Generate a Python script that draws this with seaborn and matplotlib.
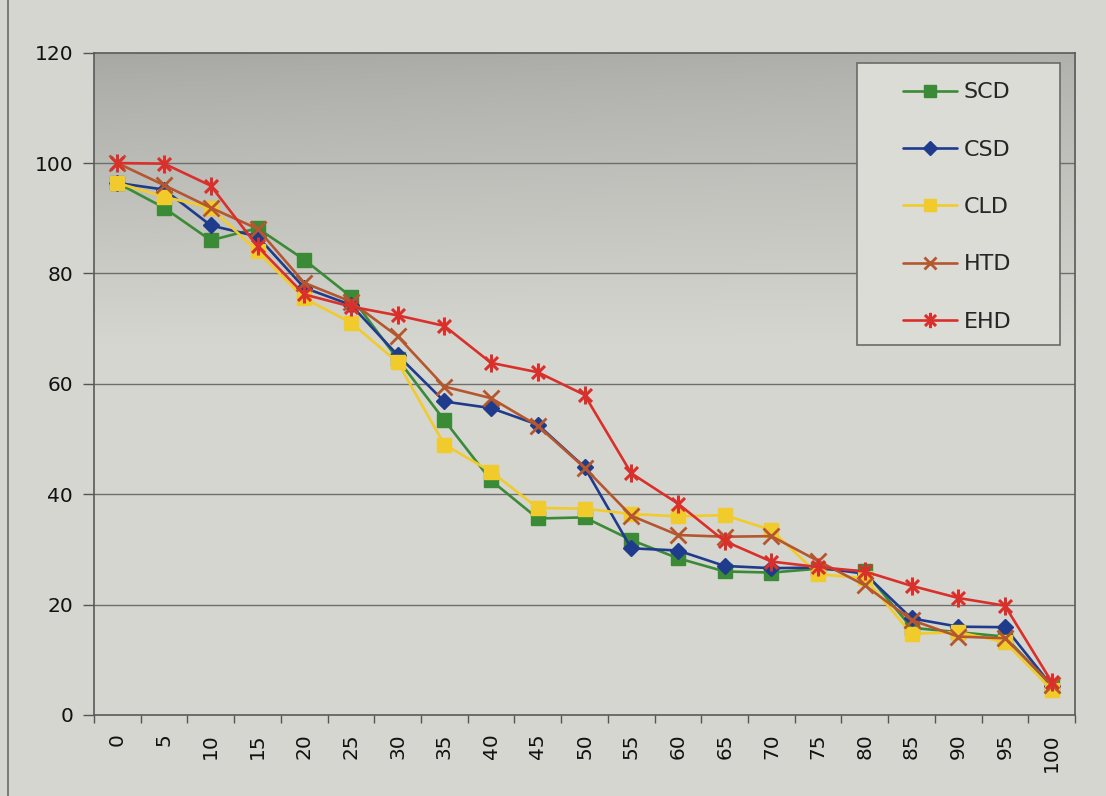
import numpy as np
import pandas as pd
import matplotlib
matplotlib.use("Agg")
import matplotlib.pyplot as plt
from matplotlib.path import Path
from matplotlib.patches import Rectangle
from matplotlib.lines import Line2D
import seaborn as sns

# Category axis (percent) and the five series
levels = [0, 5, 10, 15, 20, 25, 30, 35, 40, 45, 50, 55, 60, 65, 70, 75, 80, 85, 90, 95, 100]
scd = [96.4, 91.9, 86.0, 88.2, 82.5, 75.8, 64.5, 53.4, 42.5, 35.6, 35.8, 31.7, 28.4, 26.0, 25.8, 26.5, 26.0, 15.8, 15.0, 14.2, 5.2]
csd = [96.4, 95.2, 88.7, 86.7, 77.4, 74.3, 65.2, 56.8, 55.6, 52.6, 44.9, 30.2, 29.8, 27.0, 26.6, 26.7, 25.6, 17.5, 16.0, 15.9, 5.3]
cld = [96.4, 93.9, 91.9, 84.0, 75.5, 71.1, 63.9, 49.0, 44.1, 37.5, 37.4, 36.4, 36.0, 36.2, 33.5, 25.5, 24.8, 14.7, 15.0, 13.2, 4.6]
htd = [100.0, 96.0, 91.9, 88.1, 78.3, 74.9, 68.6, 59.5, 57.4, 52.4, 44.8, 36.1, 32.6, 32.3, 32.4, 27.9, 23.5, 17.2, 14.2, 13.9, 5.5]
ehd = [100.0, 99.9, 95.9, 84.9, 76.2, 74.0, 72.4, 70.5, 63.8, 62.1, 58.0, 43.8, 38.3, 31.5, 27.8, 26.8, 26.0, 23.4, 21.2, 19.8, 6.0]
series_names = ["SCD", "CSD", "CLD", "HTD", "EHD"]
y_ticks = [0, 20, 40, 60, 80, 100, 120]

df = pd.DataFrame({
    "nivel": levels * 5,
    "valor": scd + csd + cld + htd + ehd,
    "serie": np.repeat(series_names, len(levels)),
})

# Excel-like "star" marker: an x with a vertical bar through it
star = Path(
    [(0, -1), (0, 1), (-0.72, -0.72), (0.72, 0.72), (-0.72, 0.72), (0.72, -0.72)],
    [Path.MOVETO, Path.LINETO, Path.MOVETO, Path.LINETO, Path.MOVETO, Path.LINETO],
)

styles = {
    "SCD": dict(color="#3b8a35", marker="s", ms=10.5, mew=1.0),
    "CSD": dict(color="#1f3b8c", marker="D", ms=8.5, mew=1.0),
    "CLD": dict(color="#f1cb2c", marker="s", ms=10.5, mew=1.0),
    "HTD": dict(color="#b4572f", marker="x", ms=11, mew=2.0),
    "EHD": dict(color="#d9302b", marker=star, ms=13, mew=2.2),
}

sns.set_theme(style="white")
plt.rcParams["font.family"] = ["DejaVu Sans"]

page = "#d6d6d0"
fig = plt.figure(figsize=(11.06, 7.96), dpi=100, facecolor=page)
ax = fig.add_axes([0.085, 0.1018, 0.8870, 0.8320])
ax.set_facecolor("#d7d7d1")

# Gradient shading at the top of the plot area (row 0 = top edge)
grad_h = 200
g = np.linspace(0, 1, grad_h)
top_rgb = np.array([0.69, 0.69, 0.675])
low_rgb = np.array([0.843, 0.843, 0.82])
t = np.clip(g / 0.45, 0, 1) ** 0.85
col = top_rgb[None, :] * (1 - t[:, None]) + low_rgb[None, :] * t[:, None]
img = np.repeat(col[:, None, :], 50, axis=1)
# slightly darker toward the left edge
xs = np.linspace(0, 1, 50)
shade = 1 - 0.05 * (1 - xs)[None, :, None] * (1 - t[:, None, None])
img = np.clip(img * shade, 0, 1)
ax.imshow(img, extent=[0, 1, 0, 1], origin="upper", transform=ax.transAxes,
          aspect="auto", zorder=0, interpolation="bilinear")

for name in series_names:
    st = styles[name]
    sns.lineplot(data=df[df["serie"] == name], x="nivel", y="valor", ax=ax,
                 color=st["color"], lw=1.9, marker=st["marker"], ms=st["ms"],
                 mew=st["mew"], mec=st["color"], mfc=st["color"],
                 label=name, legend=False, zorder=3)

ax.set_xlim(-2.5, 102.5)
ax.set_ylim(0, 120)
ax.set_xlabel("")
ax.set_ylabel("")

# Category axis: tick marks between categories, labels centred on them
ax.set_xticks(np.arange(-2.5, 103, 5))
ax.set_xticklabels([])
ax.set_xticks(levels, minor=True)
ax.set_xticklabels([str(v) for v in levels], minor=True, rotation=90, fontsize=14.5, color="#111111")
ax.tick_params(axis="x", which="major", direction="out", length=6, width=1.0, color="#555555", bottom=True)
ax.tick_params(axis="x", which="minor", length=0, pad=13)
ax.set_yticks(y_ticks)
ax.set_yticklabels([str(v) for v in y_ticks], fontsize=14.5, color="#111111")
ax.tick_params(axis="y", direction="out", length=8, width=1.0, color="#555555", left=True, pad=7)

ax.grid(False)
for yv in y_ticks[1:-1]:
    ax.axhline(yv, color="#6e6e6b", lw=1.0, zorder=1)

for side in ["left", "bottom", "top", "right"]:
    ax.spines[side].set_visible(True)
    ax.spines[side].set_color("#5a5a58")
    ax.spines[side].set_linewidth(1.2)

# Legend box
ax.add_patch(Rectangle((0.778, 0.559), 0.207, 0.426, transform=ax.transAxes,
                       facecolor="#dcdcd7", edgecolor="#6a6a68", lw=1.2, zorder=4))
handles = [Line2D([0], [0], color=styles[n]["color"], lw=1.9, marker=styles[n]["marker"],
                  ms=styles[n]["ms"] * 0.85, mew=styles[n]["mew"], mec=styles[n]["color"],
                  mfc=styles[n]["color"]) for n in series_names]
leg = ax.legend(handles, series_names, loc="upper left", bbox_to_anchor=(0.8245, 0.955),
                frameon=False, fontsize=16, handlelength=2.45, handletextpad=0.3,
                labelspacing=1.68, borderpad=0.0, borderaxespad=0.0)
leg.set_zorder(5)

# Outer frame line along the left edge of the chart
fig.add_artist(Line2D([0.0075, 0.0075], [0.0, 1.0], transform=fig.transFigure,
                      color="#6a6a68", lw=1.2))

fig.savefig("out.png", dpi=100, facecolor=page)
